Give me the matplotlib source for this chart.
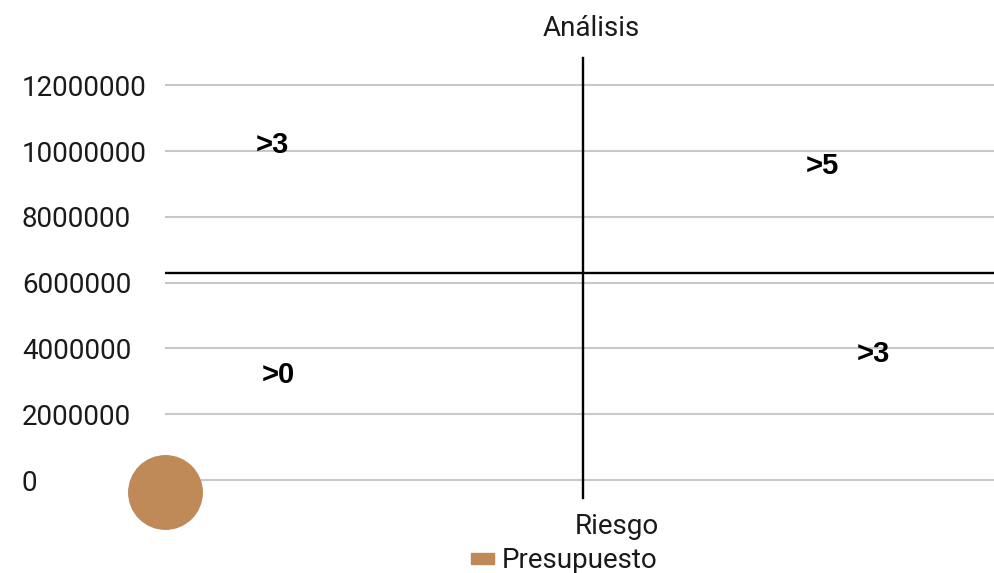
import matplotlib.pyplot as plt
from matplotlib.patches import Patch

# bubble data
bubble_x = [0]
bubble_y = [-365000]
bubble_size = [2800]

# quadrant dividers
split_x = 5.04
split_y = 6290000

# quadrant labels
quad_labels = ['>3', '>5', '>0', '>3']
quad_x = [1.29, 7.92, 1.36, 8.53]
quad_y = [10180000, 9540000, 3190000, 3830000]

y_ticks = [0, 2000000, 4000000, 6000000, 8000000, 10000000, 12000000]

plt.rcParams['font.family'] = ['Roboto', 'DejaVu Sans']

fig = plt.figure(figsize=(9.95, 5.73), dpi=100)
ax = fig.add_axes([165 / 995, 0.0934, 1 - 165 / 995, 0.8268])
ax.set_xlim(0, 10)
ax.set_ylim(-1200000, 13200000)

for t in y_ticks:
    ax.axhline(t, color='#c8c8c8', lw=1.5, zorder=1)

ax.scatter(bubble_x, bubble_y, s=bubble_size, color='#bf8958', zorder=3, clip_on=False)

ax.plot([split_x, split_x], [-550000, 12830000], color='black', lw=1.7, zorder=2, clip_on=False)
ax.axhline(split_y, color='black', lw=1.7, zorder=2)

for lab, x, y in zip(quad_labels, quad_x, quad_y):
    ax.text(x, y, lab, ha='center', va='center', fontsize=21, fontweight='bold',
            family=['Liberation Sans', 'DejaVu Sans'], zorder=4)

ax.set_yticks(y_ticks)
ax.set_yticklabels([str(t) for t in y_ticks], fontsize=20, color='#1a1a1a', ha='left')
ax.tick_params(axis='y', length=0, pad=103)
ax.set_xticks([])
for s in ax.spines.values():
    s.set_visible(False)

fig.text(591 / 995, 1 - 28 / 573, 'Análisis', ha='center', va='center', fontsize=20, color='#1a1a1a')
fig.text(617 / 995, 1 - 527 / 573, 'Riesgo', ha='center', va='center', fontsize=20, color='#1a1a1a')

fig.legend(handles=[Patch(color='#bf8958', label='Presupuesto')], loc='center',
           bbox_to_anchor=(564 / 995, 1 - 561 / 573), frameon=False, fontsize=20,
           handlelength=0.85, handleheight=0.2, handletextpad=0.25, borderpad=0,
           labelcolor='#1a1a1a')

fig.savefig('out.png', dpi=100)
